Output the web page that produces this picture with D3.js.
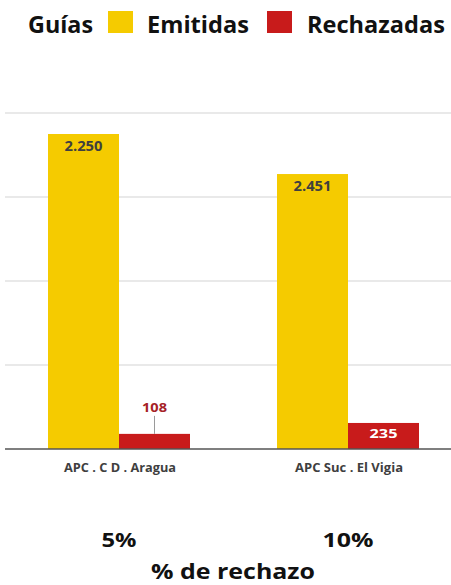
<!DOCTYPE html>
<html><head><meta charset="utf-8">
<script src="https://cdn.jsdelivr.net/npm/d3@7/dist/d3.min.js"></script>
<style>body{margin:0;background:#fff}svg{display:block}</style>
</head><body>
<script>
const categories = ["APC . C D . Aragua", "APC Suc . El Vigia"];
const series = ["Emitidas", "Rechazadas"];
const emitidas = [2250, 1964];
const rechazadas = [108, 186];
const emitidasLabels = ["2.250", "2.451"];
const rechazadasLabels = ["108", "235"];
const pctLabels = ["5%", "10%"];
const yTicks = [0, 600, 1200, 1800, 2400];
const colors = ["#F5CB00", "#C81B1B"];

const W = 451, H = 585;
const font = "'Open Sans', Lato, sans-serif";
const svg = d3.select("body").append("svg").attr("width", W).attr("height", H);

const x0 = d3.scaleBand().domain(categories).range([4.5, 462.5]).padding(0);
const groupW = 142;
const x1 = d3.scaleBand().domain(series).range([0, groupW]).padding(0);
const y = d3.scaleLinear().domain([0, 2400]).range([449, 113]);

function txt(sel, size, len) {
  return sel.attr("font-family", font).attr("font-weight", "bold").attr("font-size", size)
    .attr("text-anchor", "middle").attr("textLength", len).attr("lengthAdjust", "spacingAndGlyphs");
}

// gridlines
svg.append("g").selectAll("line").data(yTicks.slice(1)).join("line")
  .attr("x1", 5).attr("x2", W).attr("y1", d => y(d)).attr("y2", d => y(d))
  .attr("stroke", "#d4d4d4").attr("stroke-width", 1.2);

const data = categories.map((c, i) => ({cat: c, vals: [emitidas[i], rechazadas[i]], labs: [emitidasLabels[i], rechazadasLabels[i]], pct: pctLabels[i]}));

const g = svg.append("g").selectAll("g").data(data).join("g")
  .attr("transform", d => `translate(${x0(d.cat) + (x0.bandwidth() - groupW) / 2},0)`);

g.selectAll("rect").data(d => d.vals.map((v, j) => ({s: series[j], v, j}))).join("rect")
  .attr("x", d => x1(d.s)).attr("width", x1.bandwidth())
  .attr("y", d => y(d.v)).attr("height", d => y(0) - y(d.v))
  .attr("fill", d => colors[d.j]);

// emitidas labels inside top
txt(g.append("text"), 13.5, 38)
  .attr("x", x1("Emitidas") + x1.bandwidth() / 2)
  .attr("y", d => y(d.vals[0]) + 16.5)
  .attr("fill", "#3f3f3f")
  .text(d => d.labs[0]);

// rechazadas labels
g.each(function(d, i) {
  const sel = d3.select(this);
  const cx = x1("Rechazadas") + x1.bandwidth() / 2;
  const top = y(d.vals[1]);
  if (i === 0) {
    sel.append("line").attr("x1", cx).attr("x2", cx).attr("y1", top - 18).attr("y2", top)
      .attr("stroke", "#9a9a9a").attr("stroke-width", 1);
    txt(sel.append("text"), 12.5, 25).attr("x", cx).attr("y", top - 22)
      .attr("fill", "#A52226").text(d.labs[1]);
  } else {
    txt(sel.append("text"), 13, 28).attr("x", cx).attr("y", (top + y(0)) / 2 + 2.5)
      .attr("fill", "#fff").text(d.labs[1]);
  }
});

// baseline
svg.append("line").attr("x1", 5).attr("x2", W).attr("y1", y(0)).attr("y2", y(0))
  .attr("stroke", "#555").attr("stroke-width", 1.3);

// category labels
const catLens = [112, 108];
svg.append("g").selectAll("text").data(categories).join("text")
  .call(s => txt(s, 11.5, (d, i) => catLens[i]))
  .attr("x", d => x0(d) + x0.bandwidth() / 2 + 1).attr("y", 472)
  .attr("fill", "#3f3f3f").text(d => d);

// pct labels
const pctLens = [35, 51];
svg.append("g").selectAll("text").data(data).join("text")
  .call(s => txt(s, 20, (d, i) => pctLens[i]))
  .attr("x", d => x0(d.cat) + x0.bandwidth() / 2).attr("y", 546.5)
  .attr("fill", "#111").text(d => d.pct);

txt(svg.append("text"), 20.5, 164).attr("x", 233).attr("y", 579)
  .attr("fill", "#111").text("% de rechazo");

// legend
const lg = svg.append("g").attr("fill", "#111");
txt(lg.append("text"), 23, 65).attr("x", 60.5).attr("y", 32.5).text("Guías");
lg.append("rect").attr("x", 108).attr("y", 11).attr("width", 25).attr("height", 22).attr("fill", colors[0]);
txt(lg.append("text"), 23, 102).attr("x", 198).attr("y", 32.5).text("Emitidas");
lg.append("rect").attr("x", 267).attr("y", 11).attr("width", 25).attr("height", 22).attr("fill", colors[1]);
txt(lg.append("text"), 23, 138).attr("x", 376).attr("y", 32.5).text("Rechazadas");
</script>
</body></html>
